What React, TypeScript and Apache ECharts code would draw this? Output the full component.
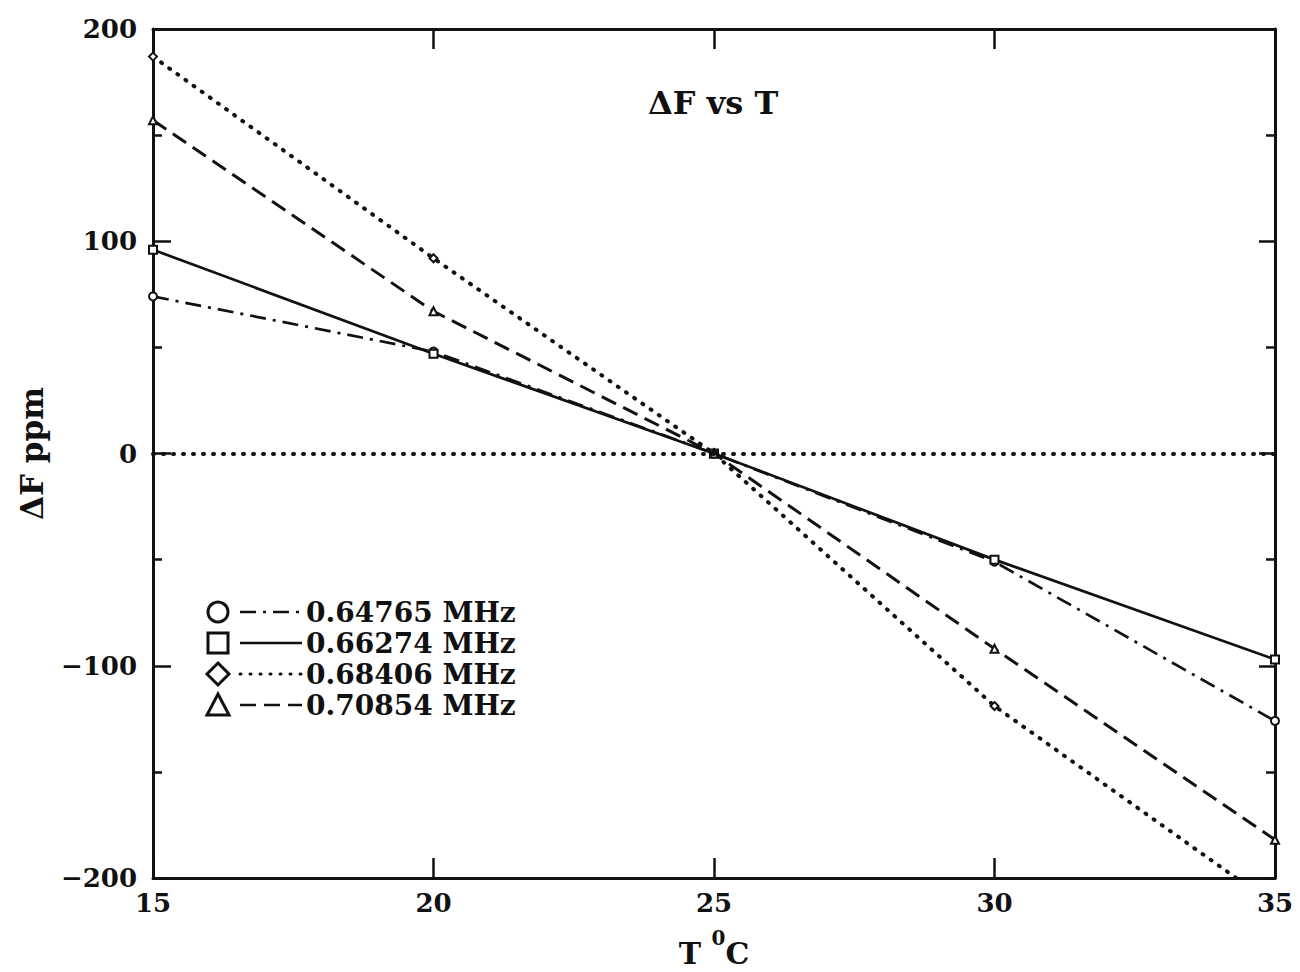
import React, { useEffect, useRef } from "react";
import * as echarts from "echarts";

const temperatures = [15, 20, 25, 30, 35];
const seriesNames = ["0.64765 MHz", "0.66274 MHz", "0.68406 MHz", "0.70854 MHz"];
const f064765 = [74, 48, 0, -51, -126];
const f066274 = [96, 47, 0, -50, -97];
const f068406 = [187, 92, 0, -119, -213];
const f070854 = [157, 67, 0, -92, -182];
const yTicks = [-200, -100, 0, 100, 200];
const xTicks = [15, 20, 25, 30, 35];

const FONT = "'DejaVu Serif', 'Liberation Serif', serif";
const INK = "#111";

const pair = (vals: number[]) => temperatures.map((t, i) => [t, vals[i]]);

export default function App() {
  const ref = useRef<HTMLDivElement>(null);
  useEffect(() => {
    if (!ref.current) return;
    const chart = echarts.init(ref.current, null, { renderer: "svg" });
    const axisLine = { show: true, onZero: false, lineStyle: { color: INK, width: 3 } };
    const lineStyles: any[] = [
      { type: [16, 7, 3, 7], width: 2.7 },
      { type: "solid", width: 2.7 },
      { type: [1, 9], width: 4, cap: "round" },
      { type: [16, 8], width: 3 },
    ];
    const symbols = ["circle", "rect", "diamond", "triangle"];
    const values = [f064765, f066274, f068406, f070854];
    const series: any[] = values.map((v, i) => ({
      name: seriesNames[i],
      type: "line",
      data: pair(v),
      symbol: symbols[i],
      symbolSize: 8,
      showSymbol: true,
      itemStyle: { color: "#fff", borderColor: INK, borderWidth: 2 },
      lineStyle: { color: INK, ...lineStyles[i] },
      z: 3,
    }));
    series[0].markLine = {
      silent: true,
      symbol: ["none", "none"],
      label: { show: false },
      lineStyle: { color: INK, type: [1, 9], width: 4, cap: "round" },
      data: [{ yAxis: 0 }],
    };

    const legendRows = [612, 643, 674, 705];
    const legendGraphics: any[] = [];
    const sx = 218;
    legendGraphics.push({
      type: "circle",
      shape: { cx: sx, cy: legendRows[0], r: 10 },
      style: { fill: "none", stroke: INK, lineWidth: 3 },
    });
    legendGraphics.push({
      type: "rect",
      shape: { x: sx - 10, y: legendRows[1] - 10, width: 20, height: 20 },
      style: { fill: "none", stroke: INK, lineWidth: 3 },
    });
    legendGraphics.push({
      type: "polygon",
      shape: {
        points: [
          [sx, legendRows[2] - 11],
          [sx + 11, legendRows[2]],
          [sx, legendRows[2] + 11],
          [sx - 11, legendRows[2]],
        ],
      },
      style: { fill: "none", stroke: INK, lineWidth: 3 },
    });
    legendGraphics.push({
      type: "polygon",
      shape: {
        points: [
          [sx, legendRows[3] - 11],
          [sx + 11, legendRows[3] + 10],
          [sx - 11, legendRows[3] + 10],
        ],
      },
      style: { fill: "none", stroke: INK, lineWidth: 3 },
    });
    legendRows.forEach((y, i) => {
      const ls = lineStyles[i];
      legendGraphics.push({
        type: "line",
        shape: { x1: 240, y1: y, x2: 302, y2: y },
        style: {
          stroke: INK,
          lineWidth: i === 2 ? 3 : 2.5,
          lineDash: Array.isArray(ls.type) ? ls.type : null,
          lineCap: i === 2 ? "round" : "butt",
        },
      });
      legendGraphics.push({
        type: "text",
        x: 306,
        y: y,
        style: {
          text: seriesNames[i],
          font: `bold 28px ${FONT}`,
          fill: INK,
          verticalAlign: "middle",
          align: "left",
        },
      });
    });

    chart.setOption({
      animation: false,
      backgroundColor: "#fff",
      title: {
        text: "\u0394F vs T",
        left: 643,
        top: 82,
        textStyle: { fontFamily: FONT, fontWeight: "bold", fontSize: 32, color: INK },
      },
      grid: { left: 153, right: 25, top: 29, bottom: 94, outerBoundsMode: "none", containLabel: false },
      xAxis: [
        {
          type: "value",
          min: xTicks[0],
          max: xTicks[xTicks.length - 1],
          interval: 5,
          position: "bottom",
          axisLine,
          axisTick: { show: true, inside: true, length: 20, lineStyle: { color: INK, width: 2.5 } },
          axisLabel: { fontFamily: FONT, fontWeight: "bold", fontSize: 26, color: INK, margin: 12 },
          splitLine: { show: false },
          name: "{a|T }{sup|0}{a|C}",
          nameLocation: "middle",
          nameGap: 50,
          nameTextStyle: {
            fontFamily: FONT,
            fontWeight: "bold",
            fontSize: 30,
            color: INK,
            rich: {
              a: { fontFamily: FONT, fontWeight: "bold", fontSize: 30, color: INK, lineHeight: 40, verticalAlign: "bottom" },
              sup: { fontFamily: FONT, fontWeight: "bold", fontSize: 20, color: INK, lineHeight: 40, verticalAlign: "top" },
            },
          },
        },
        {
          type: "value",
          min: xTicks[0],
          max: xTicks[xTicks.length - 1],
          interval: 5,
          position: "top",
          axisLine,
          axisTick: { show: true, inside: true, length: 20, lineStyle: { color: INK, width: 2.5 } },
          axisLabel: { show: false },
          splitLine: { show: false },
        },
      ],
      yAxis: [
        {
          type: "value",
          min: yTicks[0],
          max: yTicks[yTicks.length - 1],
          interval: 100,
          position: "left",
          axisLine,
          axisTick: { show: true, inside: true, length: 18, lineStyle: { color: INK, width: 2.5 } },
          minorTick: { show: true, splitNumber: 2, length: 9, lineStyle: { color: INK, width: 2.5 } },
          axisLabel: {
            fontFamily: FONT,
            fontWeight: "bold",
            fontSize: 26,
            color: INK,
            margin: 16,
            formatter: (v: number) => (v < 0 ? "\u2212" + Math.abs(v) : String(v)),
          },
          splitLine: { show: false },
          minorSplitLine: { show: false },
          name: "\u0394F ppm",
          nameLocation: "middle",
          nameGap: 106,
          nameTextStyle: { fontFamily: FONT, fontWeight: "bold", fontSize: 31, color: INK },
        },
        {
          type: "value",
          min: yTicks[0],
          max: yTicks[yTicks.length - 1],
          interval: 100,
          position: "right",
          axisLine,
          axisTick: { show: true, inside: true, length: 16, lineStyle: { color: INK, width: 2.5 } },
          minorTick: { show: true, splitNumber: 2, length: 9, lineStyle: { color: INK, width: 2.5 } },
          axisLabel: { show: false },
          splitLine: { show: false },
          minorSplitLine: { show: false },
        },
      ],
      series,
      graphic: legendGraphics,
    });
    return () => chart.dispose();
  }, []);
  return (
    <div
      ref={ref}
      style={{ position: "fixed", left: 0, top: 0, width: 1300, height: 972, background: "#fff" }}
    />
  );
}
